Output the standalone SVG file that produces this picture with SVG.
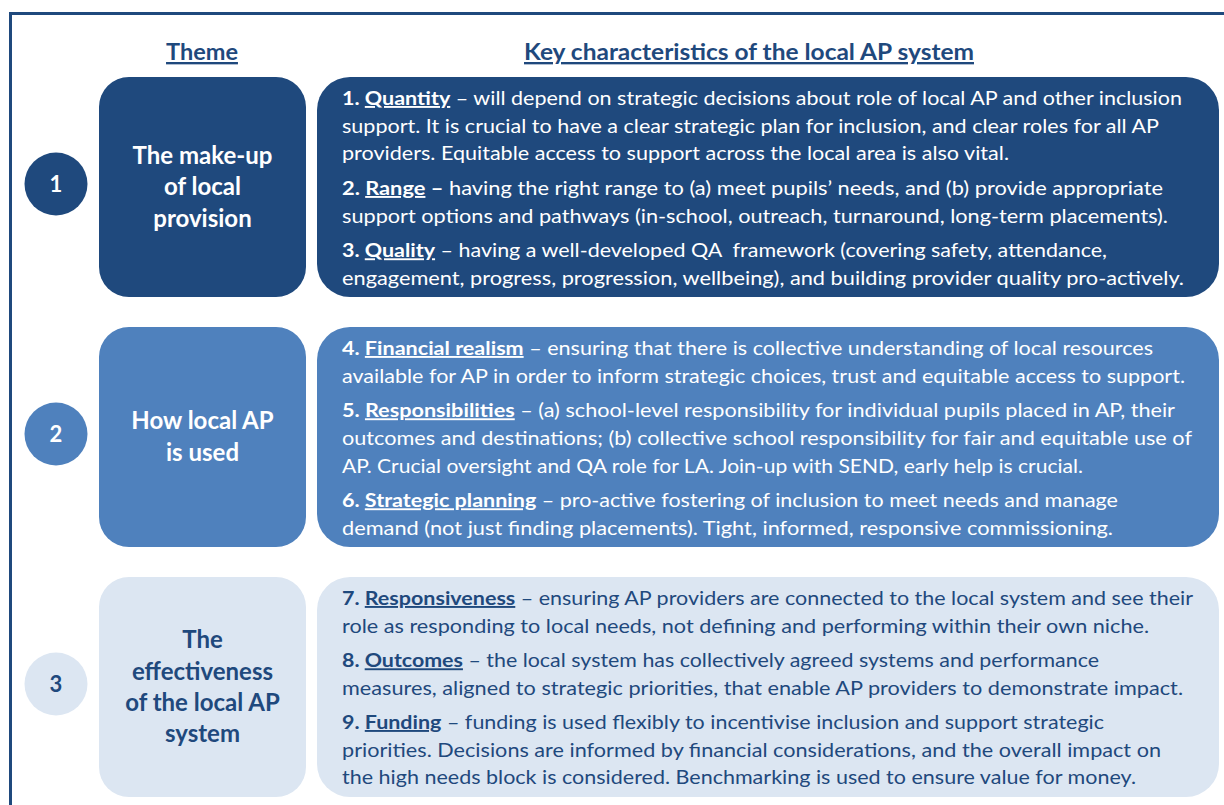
<svg xmlns="http://www.w3.org/2000/svg" width="1224" height="805" viewBox="0 0 1224 805">
<style>
.frame{stroke:#1F497D;stroke-width:3;fill:none}
.hdr{font-family:Lato,"Open Sans","Liberation Sans",sans-serif;font-size:23.5px;font-weight:bold;fill:#1F497D;text-decoration:underline}
.theme{font-family:Lato,"Open Sans","Liberation Sans",sans-serif;font-size:24px;font-weight:bold;text-anchor:middle}
.num{font-family:Lato,"Open Sans","Liberation Sans",sans-serif;font-size:22px;font-weight:bold;text-anchor:middle}
.body{font-family:Lato,"Open Sans","Liberation Sans",sans-serif;font-size:19px}
.b{font-weight:bold}
.u{text-decoration:underline}
.dark{fill:#1F497D}
.mid{fill:#4F81BD}
.light{fill:#DCE6F2}
.wt{fill:#FFFFFF}
.dt{fill:#1F497D}
</style>
<rect width="1224" height="805" fill="#FFFFFF"/>
<path class="frame" d="M10.5 805 V13.5 H1224"/>
<g id="headers">
<text class="hdr" x="202" y="60" text-anchor="middle">Theme</text>
<text class="hdr" x="524" y="60" textLength="450" lengthAdjust="spacingAndGlyphs">Key characteristics of the local AP system</text>
</g>
<g id="row1">
<circle class="dark" cx="56" cy="184" r="31.5"/>
<text class="num wt" x="56" y="192">1</text>
<rect class="dark" x="99" y="77" width="207" height="220" rx="30"/>
<text class="theme wt" x="202.5" y="163.5">The make-up</text>
<text class="theme wt" x="202.5" y="195">of local</text>
<text class="theme wt" x="202.5" y="226.5">provision</text>
<rect class="dark" x="317" y="77" width="902" height="220" rx="33"/>
<g class="body wt">
<text x="342" y="105" textLength="840" lengthAdjust="spacingAndGlyphs"><tspan class="b">1. <tspan class="u">Quantity</tspan></tspan> – will depend on strategic decisions about role of local AP and other inclusion</text>
<text x="342" y="132.7" textLength="817" lengthAdjust="spacingAndGlyphs">support. It is crucial to have a clear strategic plan for inclusion, and clear roles for all AP</text>
<text x="342" y="160.3" textLength="667" lengthAdjust="spacingAndGlyphs">providers. Equitable access to support across the local area is also vital.</text>
<text x="342" y="195" textLength="821" lengthAdjust="spacingAndGlyphs"><tspan class="b">2. <tspan class="u">Range</tspan> –</tspan> having the right range to (a) meet pupils’ needs, and (b) provide appropriate</text>
<text x="342" y="222.7" textLength="826" lengthAdjust="spacingAndGlyphs">support options and pathways (in-school, outreach, turnaround, long-term placements).</text>
<text x="342" y="257.3" textLength="765" lengthAdjust="spacingAndGlyphs"><tspan class="b">3. <tspan class="u">Quality</tspan></tspan> – having a well-developed QA&#160; framework (covering safety, attendance,</text>
<text x="342" y="285" textLength="842" lengthAdjust="spacingAndGlyphs">engagement, progress, progression, wellbeing), and building provider quality pro-actively.</text>
</g>
</g>
<g id="row2">
<circle class="mid" cx="56" cy="434" r="31.5"/>
<text class="num wt" x="56" y="442">2</text>
<rect class="mid" x="99" y="327" width="207" height="220" rx="30"/>
<text class="theme wt" x="202.5" y="429.3">How local AP</text>
<text class="theme wt" x="202.5" y="460.8">is used</text>
<rect class="mid" x="317" y="327" width="902" height="220" rx="33"/>
<g class="body wt">
<text x="342" y="355" textLength="811" lengthAdjust="spacingAndGlyphs"><tspan class="b">4. <tspan class="u">Financial realism</tspan></tspan> – ensuring that there is collective understanding of local resources</text>
<text x="342" y="382.7" textLength="843" lengthAdjust="spacingAndGlyphs">available for AP in order to inform strategic choices, trust and equitable access to support.</text>
<text x="342" y="417.3" textLength="833" lengthAdjust="spacingAndGlyphs"><tspan class="b">5. <tspan class="u">Responsibilities</tspan></tspan> – (a) school-level responsibility for individual pupils placed in AP, their</text>
<text x="342" y="445" textLength="850" lengthAdjust="spacingAndGlyphs">outcomes and destinations; (b) collective school responsibility for fair and equitable use of</text>
<text x="342" y="472.7" textLength="741" lengthAdjust="spacingAndGlyphs">AP. Crucial oversight and QA role for LA. Join-up with SEND, early help is crucial.</text>
<text x="342" y="507.3" textLength="776" lengthAdjust="spacingAndGlyphs"><tspan class="b">6. <tspan class="u">Strategic planning</tspan></tspan> – pro-active fostering of inclusion to meet needs and manage</text>
<text x="342" y="535" textLength="771" lengthAdjust="spacingAndGlyphs">demand (not just finding placements). Tight, informed, responsive commissioning.</text>
</g>
</g>
<g id="row3">
<circle class="light" cx="56" cy="684" r="31.5"/>
<text class="num dt" x="56" y="692">3</text>
<rect class="light" x="99" y="577" width="207" height="220" rx="30"/>
<text class="theme dt" x="202.5" y="648.3">The</text>
<text class="theme dt" x="202.5" y="679.5">effectiveness</text>
<text class="theme dt" x="202.5" y="710.7">of the local AP</text>
<text class="theme dt" x="202.5" y="742">system</text>
<rect class="light" x="317" y="577" width="902" height="220" rx="33"/>
<g class="body dt">
<text x="342" y="605" textLength="851" lengthAdjust="spacingAndGlyphs"><tspan class="b">7. <tspan class="u">Responsiveness</tspan></tspan> – ensuring AP providers are connected to the local system and see their</text>
<text x="342" y="632.7" textLength="807" lengthAdjust="spacingAndGlyphs">role as responding to local needs, not defining and performing within their own niche.</text>
<text x="342" y="667.3" textLength="757" lengthAdjust="spacingAndGlyphs"><tspan class="b">8. <tspan class="u">Outcomes</tspan></tspan> – the local system has collectively agreed systems and performance</text>
<text x="342" y="695" textLength="841" lengthAdjust="spacingAndGlyphs">measures, aligned to strategic priorities, that enable AP providers to demonstrate impact.</text>
<text x="342" y="729" textLength="762" lengthAdjust="spacingAndGlyphs"><tspan class="b">9. <tspan class="u">Funding</tspan></tspan> – funding is used flexibly to incentivise inclusion and support strategic</text>
<text x="342" y="756.7" textLength="819" lengthAdjust="spacingAndGlyphs">priorities. Decisions are informed by financial considerations, and the overall impact on</text>
<text x="342" y="784.4" textLength="794" lengthAdjust="spacingAndGlyphs">the high needs block is considered. Benchmarking is used to ensure value for money.</text>
</g>
</g>
</svg>
